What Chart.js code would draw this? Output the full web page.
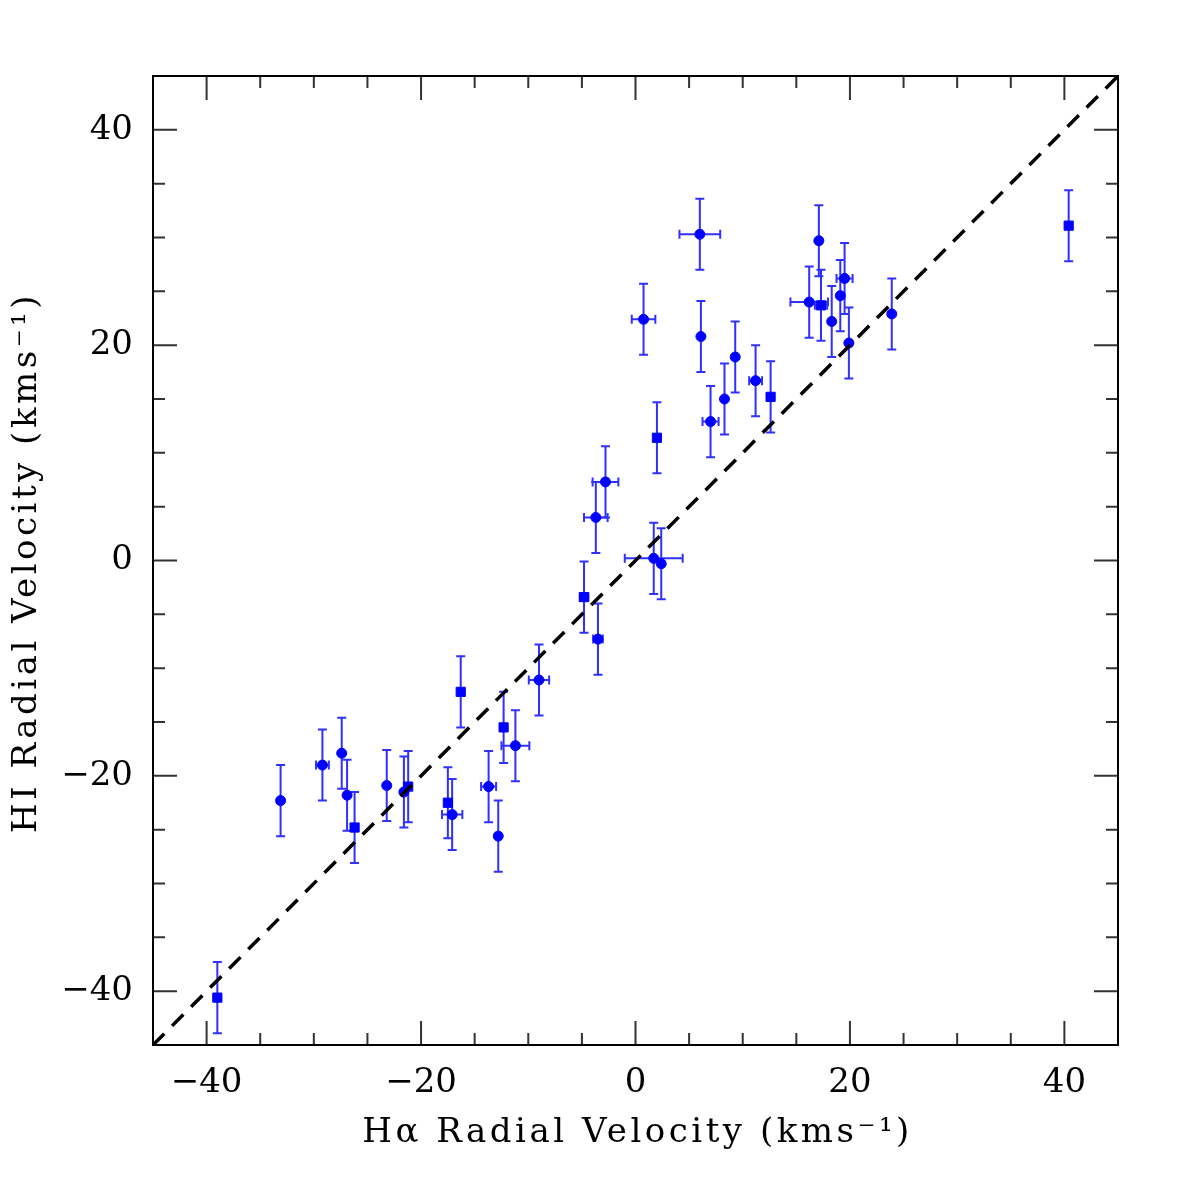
<!DOCTYPE html>
<html>
<head>
<meta charset="utf-8">
<script src="https://cdn.jsdelivr.net/npm/chart.js@4/dist/chart.umd.min.js"></script>
<style>
  html, body { margin: 0; padding: 0; background: #fff; }
  #wrap { width: 1196px; height: 1196px; }
</style>
</head>
<body>
<div id="wrap"><canvas id="c" width="1196" height="1196"></canvas></div>
<script>
// Hα radial velocity (x), HI radial velocity (y), errors and marker shape
const haVel = [-39.0, -33.1, -29.2, -27.4, -26.9, -26.2, -23.2, -21.6, -21.2, -17.5,
               -17.1, -16.3, -13.7, -12.8, -12.3, -11.2, -9.0, -4.8, -3.5, -3.7,
               -2.8, 1.7, 2.4, 2.0, 0.75, 6.0, 6.1, 7.0, 8.3, 9.3,
               11.2, 12.6, 16.2, 17.1, 17.3, 18.3, 19.1, 19.5, 19.9, 23.9, 40.4];
const hiVel = [-40.6, -22.3, -19.0, -17.9, -21.8, -24.8, -20.9, -21.5, -21.0, -22.5,
               -23.6, -12.2, -21.0, -25.6, -15.5, -17.2, -11.1, -3.4, -7.3, 4.0,
               7.3, 0.2, -0.3, 11.4, 22.4, 30.3, 20.8, 12.9, 15.0, 18.9,
               16.7, 15.2, 24.0, 29.7, 23.7, 22.2, 24.6, 26.2, 20.2, 22.9, 31.1];
const haErr = [0, 0, 0.6, 0, 0, 0, 0, 0, 0, 0,
               0.95, 0, 0.7, 0, 0, 1.3, 0.95, 0.4, 0.45, 1.1,
               1.2, 2.7, 0, 0, 1.1, 1.9, 0, 0.75, 0, 0,
               0.6, 0, 1.75, 0, 0.57, 0, 0, 0.75, 0, 0, 0];
const hiErr = [3.3, 3.3, 3.3, 3.3, 3.3, 3.3, 3.3, 3.3, 3.3, 3.3,
               3.3, 3.3, 3.3, 3.3, 3.3, 3.3, 3.3, 3.3, 3.3, 3.3,
               3.3, 3.3, 3.3, 3.3, 3.3, 3.3, 3.3, 3.3, 3.3, 3.3,
               3.3, 3.3, 3.3, 3.3, 3.3, 3.3, 3.3, 3.3, 3.3, 3.3, 3.3];
const marker = ['s','c','c','c','c','s','c','c','s','s',
                'c','s','c','c','s','c','c','s','c','c',
                'c','c','c','s','c','c','c','c','c','c',
                'c','s','c','c','s','c','c','c','c','c','s'];
const axisMin = -45, axisMax = 45;
const labeledTicks = [-40, -20, 0, 20, 40];
const xTitle = 'H\u03B1 Radial Velocity (kms\u207B\u00B9)';
const yTitle = 'HI Radial Velocity (kms\u207B\u00B9)';

const points = haVel.map((x, i) => ({x: x, y: hiVel[i], xe: haErr[i], ye: hiErr[i]}));
const FONT = 'DejaVu Serif';

const errorBarPlugin = {
  id: 'errorBars',
  beforeDatasetsDraw(chart) {
    const ctx = chart.ctx, xs = chart.scales.x, ys = chart.scales.y;
    const cap = 4.5;
    ctx.save();
    ctx.strokeStyle = '#3030ff';
    ctx.lineWidth = 2;
    points.forEach(p => {
      const px = xs.getPixelForValue(p.x), py = ys.getPixelForValue(p.y);
      ctx.beginPath();
      if (p.ye > 0) {
        const y1 = ys.getPixelForValue(p.y - p.ye), y2 = ys.getPixelForValue(p.y + p.ye);
        ctx.moveTo(px, y1); ctx.lineTo(px, y2);
        ctx.moveTo(px - cap, y1); ctx.lineTo(px + cap, y1);
        ctx.moveTo(px - cap, y2); ctx.lineTo(px + cap, y2);
      }
      if (p.xe > 0) {
        const x1 = xs.getPixelForValue(p.x - p.xe), x2 = xs.getPixelForValue(p.x + p.xe);
        ctx.moveTo(x1, py); ctx.lineTo(x2, py);
        ctx.moveTo(x1, py - cap); ctx.lineTo(x1, py + cap);
        ctx.moveTo(x2, py - cap); ctx.lineTo(x2, py + cap);
      }
      ctx.stroke();
    });
    ctx.restore();
  }
};

const framePlugin = {
  id: 'frame',
  afterDraw(chart) {
    const ctx = chart.ctx, a = chart.chartArea, xs = chart.scales.x, ys = chart.scales.y;
    ctx.save();
    ctx.strokeStyle = '#333';
    ctx.lineWidth = 2;
    ctx.beginPath();
    xs.ticks.forEach(t => {
      const v = t.value;
      if (v <= axisMin || v >= axisMax) return;
      const len = (v % 20 === 0) ? 24 : 12;
      const px = xs.getPixelForValue(v);
      ctx.moveTo(px, a.bottom); ctx.lineTo(px, a.bottom - len);
      ctx.moveTo(px, a.top); ctx.lineTo(px, a.top + len);
    });
    ys.ticks.forEach(t => {
      const v = t.value;
      if (v <= axisMin || v >= axisMax) return;
      const len = (v % 20 === 0) ? 24 : 12;
      const py = ys.getPixelForValue(v);
      ctx.moveTo(a.left, py); ctx.lineTo(a.left + len, py);
      ctx.moveTo(a.right, py); ctx.lineTo(a.right - len, py);
    });
    ctx.stroke();
    ctx.strokeStyle = '#000';
    ctx.strokeRect(a.left, a.top, a.right - a.left, a.bottom - a.top);

    // axis titles (wide letter spacing, like the original plotting font)
    ctx.fillStyle = '#000';
    ctx.font = '34px "' + FONT + '"';
    try { ctx.letterSpacing = '3.5px'; } catch (e) {}
    ctx.textAlign = 'center';
    ctx.textBaseline = 'alphabetic';
    ctx.fillText(xTitle, (a.left + a.right) / 2 + 2, a.bottom + 97);
    ctx.save();
    ctx.translate(36, (a.top + a.bottom) / 2 + 2);
    ctx.rotate(-Math.PI / 2);
    ctx.fillText(yTitle, 0, 0);
    ctx.restore();
    ctx.restore();
  }
};

function tickLabel(v) {
  if (labeledTicks.indexOf(v) < 0) return '';
  return v < 0 ? '\u2212' + Math.abs(v) : String(v);
}

new Chart(document.getElementById('c'), {
  type: 'scatter',
  data: {
    datasets: [
      {
        type: 'line',
        data: [{x: axisMin, y: axisMin}, {x: axisMax, y: axisMax}],
        borderColor: '#000',
        borderWidth: 3.5,
        borderDash: [16, 11],
        pointRadius: 0,
        fill: false
      },
      {
        data: points,
        pointStyle: marker.map(m => m === 's' ? 'rect' : 'circle'),
        pointRadius: marker.map(m => m === 's' ? 6.5 : 5),
        backgroundColor: '#0000ff',
        borderColor: '#0000ff',
        borderWidth: 1
      }
    ]
  },
  options: {
    responsive: false,
    animation: false,
    devicePixelRatio: 1,
    layout: { padding: { top: 76, right: 78, left: 0, bottom: 0 } },
    plugins: { legend: { display: false }, tooltip: { enabled: false } },
    scales: {
      x: {
        type: 'linear', min: axisMin, max: axisMax,
        grid: { display: false },
        border: { display: false },
        ticks: {
          stepSize: 5, autoSkip: false, maxRotation: 0, minRotation: 0,
          color: '#000', padding: 10,
          font: { family: FONT, size: 34 },
          callback: v => tickLabel(v)
        },
        title: { display: false },
        afterFit: s => { s.height = 151; }
      },
      y: {
        type: 'linear', min: axisMin, max: axisMax,
        grid: { display: false },
        border: { display: false },
        ticks: {
          stepSize: 5, autoSkip: false,
          color: '#000', padding: 12,
          font: { family: FONT, size: 34 },
          callback: v => tickLabel(v)
        },
        title: { display: false },
        afterFit: s => { s.width = 153; }
      }
    }
  },
  plugins: [errorBarPlugin, framePlugin]
});
</script>
</body>
</html>
